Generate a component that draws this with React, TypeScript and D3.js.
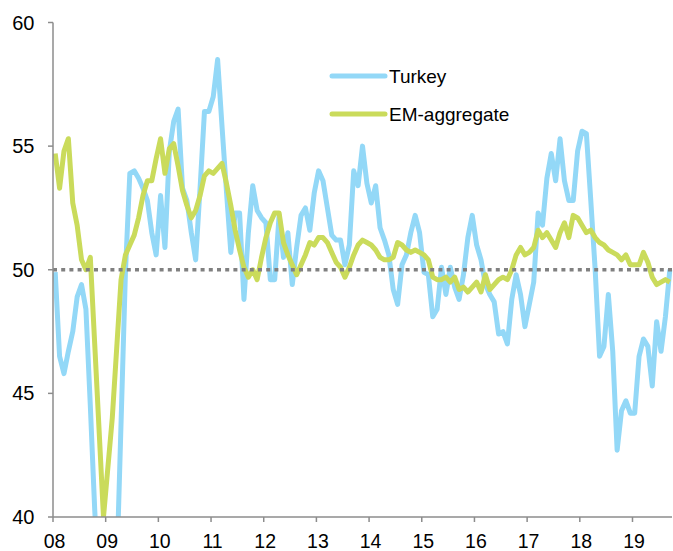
import React from 'react';
import * as d3 from 'd3';

// Monthly PMI values, Jan 2008 .. Sep 2019
const turkey: number[] = [
  49.9, 46.5, 45.8, 46.7, 47.5, 48.9, 49.4, 48.4, 44.5, 40.3, 37.0, 34.0,
  33.0, 34.5, 37.7, 43.8, 49.9, 53.9, 54.0, 53.7, 53.3, 52.8, 51.5, 50.6,
  53.0, 50.9, 54.8, 56.0, 56.5, 53.3, 52.8, 51.5, 50.4, 53.3, 56.4, 56.4,
  57.0, 58.5, 55.8, 53.2, 50.7, 52.3, 52.3, 48.8, 51.5, 53.4, 52.4, 52.1,
  51.9, 49.6, 49.6, 52.2, 50.5, 51.5, 49.4, 50.9, 52.2, 52.5, 51.6, 53.1,
  54.0, 53.6, 52.5, 51.4, 51.2, 51.2, 50.2, 51.0, 54.0, 53.4, 55.0, 53.5,
  52.7, 53.4, 51.7, 51.2, 50.6, 49.2, 48.6, 50.2, 50.6, 51.5, 52.2, 51.5,
  49.9, 49.8, 48.1, 48.4, 50.1, 49.0, 50.1, 49.3, 48.8, 49.8, 51.3, 52.2,
  51.0, 50.4, 49.4, 49.0, 48.7, 47.4, 47.5, 47.0, 48.8, 49.8, 49.0, 47.7,
  48.6, 49.5, 52.3, 51.8, 53.7, 54.7, 53.6, 55.3, 53.6, 52.8, 52.8, 54.8,
  55.6, 55.5, 52.8, 50.0, 46.5, 46.9, 49.0, 46.7, 42.7, 44.3, 44.7, 44.2,
  44.2, 46.5, 47.2, 46.9, 45.3, 47.9, 46.7, 48.1, 50.0,
];

const emAggregate: number[] = [
  54.7, 53.3, 54.8, 55.3, 52.7, 51.8, 50.4, 50.0, 50.5, 47.0, 43.5, 40.0,
  42.0, 44.0, 46.8, 49.6, 50.6, 51.0, 51.4, 52.1, 53.0, 53.6, 53.6, 54.5,
  55.3, 53.9, 54.9, 55.1, 54.2, 53.2, 52.6, 52.1, 52.4, 53.0, 53.8, 54.0,
  53.9, 54.1, 54.3, 53.5, 52.6, 51.6, 50.8, 50.1, 49.7, 50.0, 49.6, 50.5,
  51.3, 51.9, 52.3, 52.3, 51.1, 50.6, 50.2, 49.8, 50.2, 50.6, 51.1, 51.0,
  51.3, 51.3, 51.1, 50.7, 50.3, 50.1, 49.7, 50.1, 50.6, 51.0, 51.2, 51.1,
  51.0, 50.8, 50.5, 50.4, 50.4, 50.5, 51.1, 51.0, 50.8, 50.7, 50.8, 50.7,
  50.6, 50.4, 49.7, 49.6, 49.6, 49.7, 49.5, 49.7, 49.2, 49.3, 49.1, 49.3,
  49.5, 49.1, 49.8, 49.2, 49.4, 49.6, 49.7, 49.6, 50.0, 50.6, 50.9, 50.6,
  50.7, 50.9, 51.6, 51.3, 51.5, 51.2, 50.9, 51.5, 51.9, 51.3, 52.2, 52.1,
  51.8, 51.5, 51.6, 51.3, 51.1, 51.0, 50.8, 50.7, 50.6, 50.4, 50.6, 50.2,
  50.2, 50.2, 50.7, 50.3, 49.7, 49.4, 49.5, 49.6, 49.5,
];

const yearLabels: string[] = ['08', '09', '10', '11', '12', '13', '14', '15', '16', '17', '18', '19'];
const yTicks: number[] = [40, 45, 50, 55, 60];
const seriesNames: string[] = ['Turkey', 'EM-aggregate'];
const threshold = 50;

const W = 673;
const H = 551;
const BLUE = '#93D8F7';
const GREEN = '#CADB5B';
const AXIS = '#8c8c8c';
const FONT = '"Liberation Sans", Arial, sans-serif';

export default function App() {
  const nMonths = turkey.length; // 141
  const x = d3.scaleLinear().domain([0, nMonths]).range([53, 672]);
  const y = d3.scaleLinear().domain([40, 60]).range([517, 22.5]);

  const line = d3
    .line<number>()
    .x((_, i) => x(i + 0.5))
    .y((d) => y(d));

  const left = x(0);
  const right = x(nMonths);
  const bottom = y(40);
  const top = y(60);

  return (
    <svg
      width={W}
      height={H}
      style={{ position: 'absolute', left: 0, top: 0, background: '#fff' }}
    >
      <defs>
        <clipPath id="plot">
          <rect x={left} y={top - 10} width={right - left + 5} height={bottom - top + 10} />
        </clipPath>
      </defs>

      {/* series */}
      <g clipPath="url(#plot)">
        <path d={line(turkey) || ''} fill="none" stroke={BLUE} strokeWidth={5} strokeLinejoin="round" strokeLinecap="butt" />
        <path d={line(emAggregate) || ''} fill="none" stroke={GREEN} strokeWidth={5} strokeLinejoin="round" strokeLinecap="butt" />
      </g>

      {/* 50 threshold */}
      <line
        x1={left}
        x2={right}
        y1={y(threshold)}
        y2={y(threshold)}
        stroke="#808080"
        strokeWidth={3.5}
        strokeDasharray="4 4.2"
      />

      {/* y axis */}
      <line x1={left} x2={left} y1={top} y2={bottom} stroke={AXIS} strokeWidth={1.5} />
      {yTicks.map((t) => (
        <g key={t}>
          <line x1={left - 5} x2={left} y1={y(t)} y2={y(t)} stroke={AXIS} strokeWidth={1.5} />
          <text
            x={34.5}
            y={y(t) + 7}
            textAnchor="end"
            fontFamily={FONT}
            fontSize={20}
            fill="#000"
          >
            {t}
          </text>
        </g>
      ))}

      {/* x axis */}
      <line x1={left} x2={right} y1={bottom} y2={bottom} stroke={AXIS} strokeWidth={1.5} />
      {yearLabels.map((lab, i) => (
        <g key={lab}>
          <line x1={x(i * 12)} x2={x(i * 12)} y1={bottom} y2={bottom + 5} stroke={AXIS} strokeWidth={1.5} />
          <text
            x={x(i * 12) + 1.5}
            y={547.5}
            textAnchor="middle"
            fontFamily={FONT}
            fontSize={19.5}
            fill="#000"
          >
            {lab}
          </text>
        </g>
      ))}

      {/* legend */}
      {seriesNames.map((name, i) => {
        const ly = 76 + i * 38;
        return (
          <g key={name}>
            <line x1={332} x2={385} y1={ly} y2={ly} stroke={i === 0 ? BLUE : GREEN} strokeWidth={5} strokeLinecap="round" />
            <text x={389} y={ly + 7} fontFamily={FONT} fontSize={19} fill="#000">
              {name}
            </text>
          </g>
        );
      })}
    </svg>
  );
}
